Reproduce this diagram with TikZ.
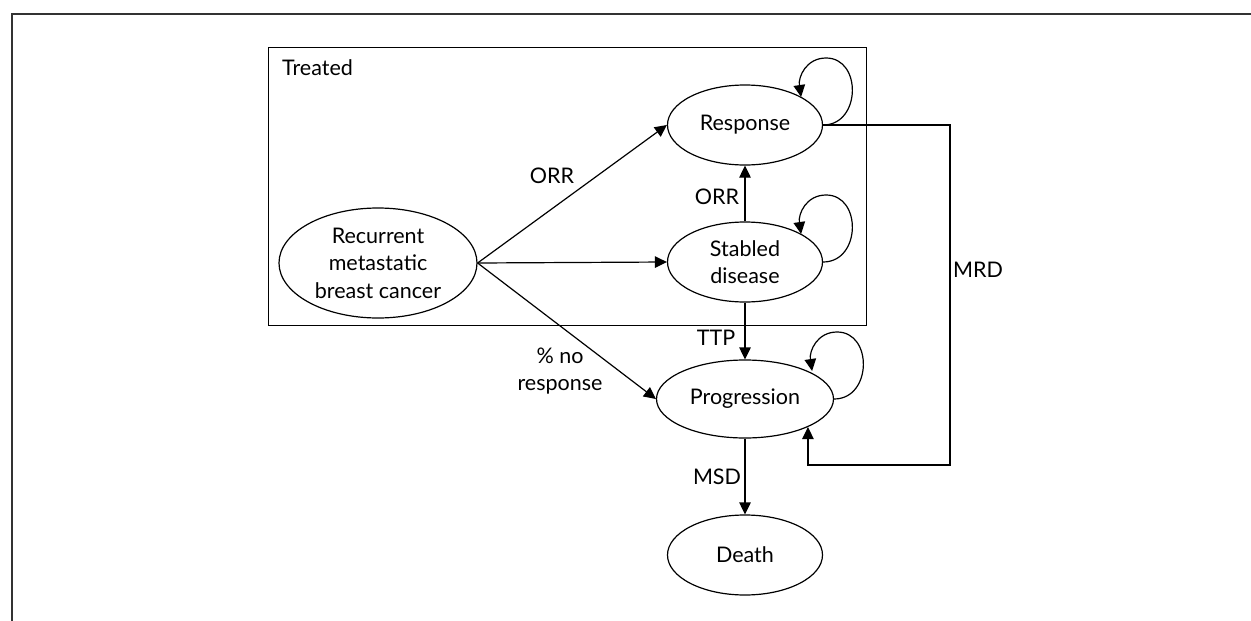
\documentclass[tikz,border=0pt]{standalone}
\usepackage{fontspec}
\setmainfont{Lato}
\usetikzlibrary{arrows.meta,shapes.geometric}
\begin{document}
\begin{tikzpicture}[x=1pt,y=-1pt,
  txt/.style={font=\fontsize{21.5}{27.5}\selectfont},
  state/.style={draw, ellipse, line width=1.2pt, inner sep=0pt,
    minimum width=155pt, minimum height=80pt, align=center, txt},
  edge/.style={line width=1.2pt, -{Triangle[length=12pt,width=11.5pt]}},
  lbl/.style={txt, align=center, inner sep=0pt},
]
\useasboundingbox (0,0) rectangle (1251,621);
\draw[line width=2pt, black!80] (12,621) -- (12,14) -- (1251,14);
\node[draw, line width=1.4pt, minimum width=598pt, minimum height=278pt,
  anchor=north west, inner sep=0pt] (treated) at (268,47) {};
\node[lbl, anchor=base west] (treatedlbl) at (282,75) {Treated};

\node[state] (resp) at (745,125) {Response};
\node[state] (stab) at (745,262) {Stabled\\disease};
\node[state, minimum width=177pt, minimum height=78pt] (prog) at (745,399) {Progression};
\node[state] (death) at (745,555) {Death};
\node[state, minimum width=198pt, minimum height=110pt] (rec) at (378,263)
  {Recurrent\\metastatic\\breast cancer};

\draw[edge] (rec.east) -- (resp.west);
\draw[edge] (rec.east) -- (stab.west);
\draw[edge] (rec.east) -- (prog.west);
\draw[edge] (stab.north) -- (resp.south);
\draw[edge] (stab.south) -- (prog.north);
\draw[edge] (prog.south) -- (death.north);

\draw[edge] (resp.east) .. controls +(38,0) and +(36,0) .. ++(3,-67)
  .. controls +(-20,0) and +(-3,-20) .. ++(-25,39);
\draw[edge] (stab.east) .. controls +(38,0) and +(36,0) .. ++(3,-67)
  .. controls +(-20,0) and +(-3,-20) .. ++(-25,39);
\draw[edge] (prog.east) .. controls +(38,0) and +(36,0) .. ++(3,-67)
  .. controls +(-20,0) and +(-3,-20) .. ++(-25,39);

\draw[edge] (resp.east) -- (950,125) -- (950,465) -| (prog.-24);

\node[lbl] (lorr1) at (552,176) {ORR};
\node[lbl] (lorr2) at (717,197) {ORR};
\node[lbl] (lttp) at (716,338) {TTP};
\node[lbl] (lmsd) at (717,477) {MSD};
\node[lbl] (lmrd) at (978,270) {MRD};
\node[lbl] (lnoresp) at (560,371) {\% no\\response};
\end{tikzpicture}
\end{document}
